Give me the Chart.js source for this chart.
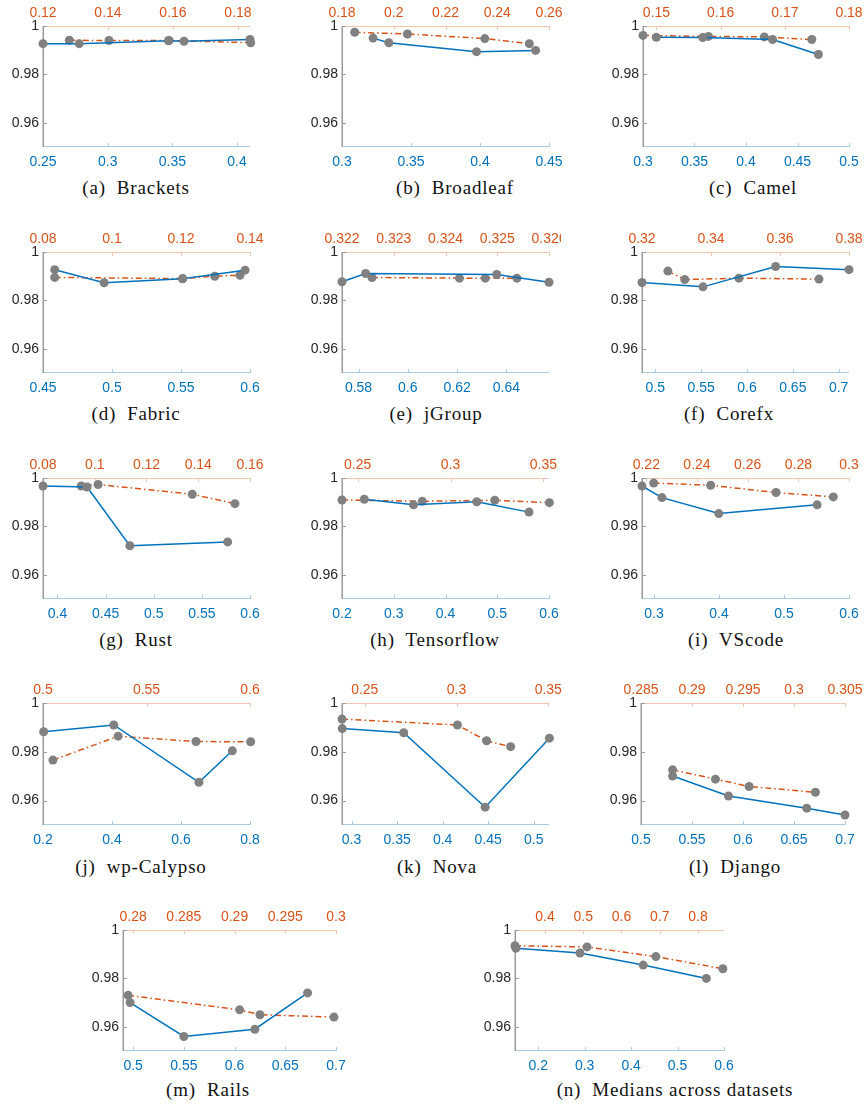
<!DOCTYPE html>
<html>
<head>
<meta charset="utf-8">
<script src="https://cdn.jsdelivr.net/npm/chart.js@4.4.1/dist/chart.umd.min.js"></script>
<style>
  html, body { margin: 0; padding: 0; background: #fff; }
  #fig { position: relative; width: 866px; height: 1106px; overflow: hidden; background: #fff; }
  #fig canvas { position: absolute; }
  .cap {
    position: absolute;
    font-family: "Liberation Serif", "Times New Roman", serif;
    font-size: 19px;
    letter-spacing: 0.8px;
    white-space: pre;
    color: #111;
    transform: translate(-50%, -50%);
  }
</style>
</head>
<body>
<div id="fig"></div>
<script>
// ---- data: [x, y] pairs; blue series uses the bottom axis, orange series the top axis ----
const bracketsBlue   = [[0.25, 0.9927], [0.278, 0.9927], [0.347, 0.9939], [0.359, 0.9937], [0.41, 0.9944]];
const bracketsOrange = [[0.1281, 0.9941], [0.1403, 0.9940], [0.1588, 0.9940], [0.1839, 0.9931]];
const bracketsBottomTicks = [0.25, 0.3, 0.35, 0.4];
const bracketsTopTicks    = [0.12, 0.14, 0.16, 0.18];

const broadleafBlue   = [[0.3225, 0.9950], [0.3339, 0.9931], [0.3975, 0.9894], [0.4403, 0.9899]];
const broadleafOrange = [[0.1849, 0.9974], [0.2053, 0.9967], [0.2352, 0.9948], [0.2524, 0.9927]];
const broadleafBottomTicks = [0.3, 0.35, 0.4, 0.45];
const broadleafTopTicks    = [0.18, 0.2, 0.22, 0.24, 0.26];

const camelBlue   = [[0.3129, 0.9953], [0.358, 0.9952], [0.4258, 0.9944], [0.4703, 0.9882]];
const camelOrange = [[0.1479, 0.9961], [0.1581, 0.9957], [0.1668, 0.9955], [0.1742, 0.9944]];
const camelBottomTicks = [0.3, 0.35, 0.4, 0.45, 0.5];
const camelTopTicks    = [0.15, 0.16, 0.17, 0.18];

const fabricBlue   = [[0.4585, 0.9927], [0.4943, 0.9873], [0.5511, 0.9889], [0.5964, 0.9925]];
const fabricOrange = [[0.0834, 0.9895], [0.1205, 0.9890], [0.1298, 0.9900], [0.1371, 0.9904]];
const fabricBottomTicks = [0.45, 0.5, 0.55, 0.6];
const fabricTopTicks    = [0.08, 0.1, 0.12, 0.14];

const jgroupBlue   = [[0.5733, 0.9877], [0.5829, 0.9911], [0.6361, 0.9907], [0.6573, 0.9875]];
const jgroupOrange = [[0.32258, 0.98945], [0.32427, 0.9892], [0.32477, 0.9892], [0.32538, 0.9892]];
const jgroupBottomTicks = [0.58, 0.6, 0.62, 0.64];
const jgroupTopTicks    = [0.322, 0.323, 0.324, 0.325, 0.326];

const corefxBlue   = [[0.4855, 0.9874], [0.552, 0.9856], [0.6313, 0.9940], [0.7113, 0.9927]];
const corefxOrange = [[0.3275, 0.9921], [0.3324, 0.9886], [0.3481, 0.9892], [0.3713, 0.9888]];
const corefxBottomTicks = [0.5, 0.55, 0.6, 0.65, 0.7];
const corefxTopTicks    = [0.32, 0.34, 0.36, 0.38];

const rustBlue   = [[0.385, 0.9967], [0.4308, 0.9963], [0.4752, 0.9720], [0.5768, 0.9736]];
const rustOrange = [[0.0948, 0.9967], [0.1013, 0.9973], [0.1377, 0.9933], [0.1542, 0.9894]];
const rustBottomTicks = [0.4, 0.45, 0.5, 0.55, 0.6];
const rustTopTicks    = [0.08, 0.1, 0.12, 0.14, 0.16];

const tensorflowBlue   = [[0.2431, 0.9912], [0.3383, 0.9889], [0.4605, 0.9902], [0.5614, 0.9859]];
const tensorflowOrange = [[0.2416, 0.9909], [0.2848, 0.9904], [0.3238, 0.9908], [0.3532, 0.9898]];
const tensorflowBottomTicks = [0.2, 0.3, 0.4, 0.5, 0.6];
const tensorflowTopTicks    = [0.25, 0.3, 0.35];

const vscodeBlue   = [[0.2816, 0.9967], [0.3123, 0.9919], [0.3997, 0.9853], [0.551, 0.9889]];
const vscodeOrange = [[0.2229, 0.9979], [0.2454, 0.9970], [0.2712, 0.9940], [0.2938, 0.9922]];
const vscodeBottomTicks = [0.3, 0.4, 0.5, 0.6];
const vscodeTopTicks    = [0.22, 0.24, 0.26, 0.28, 0.3];

const calypsoBlue   = [[0.2019, 0.9882], [0.4052, 0.9910], [0.652, 0.9675], [0.7487, 0.9804]];
const calypsoOrange = [[0.5048, 0.9766], [0.5363, 0.9864], [0.5739, 0.9842], [0.6003, 0.9841]];
const calypsoBottomTicks = [0.2, 0.4, 0.6, 0.8];
const calypsoTopTicks    = [0.5, 0.55, 0.6];

const novaBlue   = [[0.2898, 0.9895], [0.3573, 0.9878], [0.4467, 0.9573], [0.5172, 0.9856]];
const novaOrange = [[0.2376, 0.9934], [0.3005, 0.9910], [0.3164, 0.9845], [0.3295, 0.9821]];
const novaBottomTicks = [0.3, 0.35, 0.4, 0.45, 0.5];
const novaTopTicks    = [0.25, 0.3, 0.35];

const djangoBlue   = [[0.531, 0.9701], [0.5858, 0.9619], [0.6625, 0.9569], [0.70, 0.9541]];
const djangoOrange = [[0.2881, 0.9726], [0.2923, 0.9688], [0.2956, 0.9658], [0.3021, 0.9634]];
const djangoBottomTicks = [0.5, 0.55, 0.6, 0.65, 0.7];
const djangoTopTicks    = [0.285, 0.29, 0.295, 0.3, 0.305];

const railsBlue   = [[0.497, 0.9700], [0.55, 0.9560], [0.62, 0.9590], [0.672, 0.9740]];
const railsOrange = [[0.2795, 0.9730], [0.2905, 0.9670], [0.2925, 0.9650], [0.2998, 0.9640]];
const railsBottomTicks = [0.5, 0.55, 0.6, 0.65, 0.7];
const railsTopTicks    = [0.28, 0.285, 0.29, 0.295, 0.3];

const mediansBlue   = [[0.152, 0.9925], [0.29, 0.9905], [0.426, 0.9855], [0.562, 0.9800]];
const mediansOrange = [[0.3216, 0.9935], [0.51, 0.9930], [0.69, 0.9890], [0.865, 0.9840]];
const mediansBottomTicks = [0.2, 0.3, 0.4, 0.5, 0.6];
const mediansTopTicks    = [0.4, 0.5, 0.6, 0.7, 0.8];

const yTicks = [0.96, 0.98, 1];
const yRange = [0.95, 1];

// ---- panel definitions (data + axis limits) ----
const PANELS = [
  { key: 'a', caption: '(a)  Brackets',   blue: bracketsBlue,   orange: bracketsOrange,   bt: bracketsBottomTicks,   tt: bracketsTopTicks,   bx: [0.25, 0.41],     tx: [0.12, 0.1837] },
  { key: 'b', caption: '(b)  Broadleaf',  blue: broadleafBlue,  orange: broadleafOrange,  bt: broadleafBottomTicks,  tt: broadleafTopTicks,  bx: [0.3, 0.45],      tx: [0.18, 0.26] },
  { key: 'c', caption: '(c)  Camel',      blue: camelBlue,      orange: camelOrange,      bt: camelBottomTicks,      tt: camelTopTicks,      bx: [0.3, 0.5],       tx: [0.1479, 0.18] },
  { key: 'd', caption: '(d)  Fabric',     blue: fabricBlue,     orange: fabricOrange,     bt: fabricBottomTicks,     tt: fabricTopTicks,     bx: [0.45, 0.6],      tx: [0.08, 0.14] },
  { key: 'e', caption: '(e)  jGroup',     blue: jgroupBlue,     orange: jgroupOrange,     bt: jgroupBottomTicks,     tt: jgroupTopTicks,     bx: [0.5733, 0.6573], tx: [0.322, 0.326] },
  { key: 'f', caption: '(f)  Corefx',     blue: corefxBlue,     orange: corefxOrange,     bt: corefxBottomTicks,     tt: corefxTopTicks,     bx: [0.4855, 0.7113], tx: [0.32, 0.38] },
  { key: 'g', caption: '(g)  Rust',       blue: rustBlue,       orange: rustOrange,       bt: rustBottomTicks,       tt: rustTopTicks,       bx: [0.385, 0.6],     tx: [0.08, 0.16] },
  { key: 'h', caption: '(h)  Tensorflow', blue: tensorflowBlue, orange: tensorflowOrange, bt: tensorflowBottomTicks, tt: tensorflowTopTicks, bx: [0.2, 0.6],       tx: [0.2416, 0.353] },
  { key: 'i', caption: '(i)  VScode',     blue: vscodeBlue,     orange: vscodeOrange,     bt: vscodeBottomTicks,     tt: vscodeTopTicks,     bx: [0.2816, 0.6],    tx: [0.2183, 0.3] },
  { key: 'j', caption: '(j)  wp-Calypso', blue: calypsoBlue,    orange: calypsoOrange,    bt: calypsoBottomTicks,    tt: calypsoTopTicks,    bx: [0.2, 0.8],       tx: [0.5, 0.6] },
  { key: 'k', caption: '(k)  Nova',       blue: novaBlue,       orange: novaOrange,       bt: novaBottomTicks,       tt: novaTopTicks,       bx: [0.2895, 0.5168], tx: [0.2376, 0.3504] },
  { key: 'l', caption: '(l)  Django',     blue: djangoBlue,     orange: djangoOrange,     bt: djangoBottomTicks,     tt: djangoTopTicks,     bx: [0.5, 0.7],       tx: [0.285, 0.305] },
  { key: 'm', caption: '(m)  Rails',      blue: railsBlue,      orange: railsOrange,      bt: railsBottomTicks,      tt: railsTopTicks,      bx: [0.49, 0.7],      tx: [0.279, 0.3] },
  { key: 'n', caption: '(n)  Medians across datasets', blue: mediansBlue, orange: mediansOrange, bt: mediansBottomTicks, tt: mediansTopTicks, bx: [0.15, 0.6], tx: [0.3216, 0.868] }
];

// ---- page layout: plot boxes [left, top, right, bottom] and caption centres ----
const FRAMES = {
  a: { box: [43, 26, 250, 147],   cap: [136, 188] },
  b: { box: [342, 26, 549, 147],  cap: [455, 188] },
  c: { box: [643, 26, 849, 147],  cap: [753, 188] },
  d: { box: [43, 252, 250, 373],  cap: [136, 414] },
  e: { box: [342, 252, 549, 373], cap: [436, 414], padRight: 12 },
  f: { box: [642, 252, 849, 373], cap: [729, 414] },
  g: { box: [43, 478, 250, 599],  cap: [136, 640] },
  h: { box: [342, 478, 549, 599], cap: [435, 640] },
  i: { box: [642, 478, 849, 599], cap: [736, 640] },
  j: { box: [43, 703, 250, 825],  cap: [141, 867] },
  k: { box: [342, 703, 549, 825], cap: [437, 867] },
  l: { box: [641, 703, 845, 825], cap: [735, 867] },
  m: { box: [123, 930, 336, 1051], cap: [208, 1090] },
  n: { box: [515, 930, 724, 1051], cap: [675, 1090] }
};

const BLUE = '#0072BD';
const ORANGE = '#D95319';
const MARKER = '#808080';
const BOTTOM_AXIS = '#a9cbe6';
const TOP_AXIS = '#f1c6b0';
const LEFT_AXIS = '#9a9a9a';
const PAD_L = 48, PAD_T = 24, PAD_B = 24;

// axis lines plus short inward tick marks, MATLAB style
const axisDecor = {
  id: 'axisDecor',
  beforeDatasetsDraw(chart) {
    const { ctx, chartArea: a, scales } = chart;
    ctx.save();
    ctx.lineWidth = 1;
    const seg = (color, x1, y1, x2, y2) => {
      ctx.strokeStyle = color;
      ctx.beginPath(); ctx.moveTo(x1, y1); ctx.lineTo(x2, y2); ctx.stroke();
    };
    seg(TOP_AXIS, a.left, a.top + 0.5, a.right, a.top + 0.5);
    seg(BOTTOM_AXIS, a.left, a.bottom - 0.5, a.right, a.bottom - 0.5);
    scales.x.ticks.forEach(t => {
      const p = Math.round(scales.x.getPixelForValue(t.value)) + 0.5;
      seg(BOTTOM_AXIS, p, a.bottom, p, a.bottom - 4);
    });
    scales.x2.ticks.forEach(t => {
      const p = Math.round(scales.x2.getPixelForValue(t.value)) + 0.5;
      seg(TOP_AXIS, p, a.top, p, a.top + 4);
    });
    scales.y.ticks.forEach(t => {
      const p = Math.round(scales.y.getPixelForValue(t.value)) + 0.5;
      seg(LEFT_AXIS, a.left, p, a.left + 4, p);
    });
    ctx.lineWidth = 1.5;
    seg(LEFT_AXIS, a.left + 0.25, a.top, a.left + 0.25, a.bottom);
    ctx.restore();
  }
};

const fmt = v => String(v);
const tickFont = { family: '"Liberation Sans", Arial, sans-serif', size: 14 };

const fig = document.getElementById('fig');

PANELS.forEach(p => {
  const fr = FRAMES[p.key];
  const [l, t, r, b] = fr.box;
  const padR = fr.padRight || 24;
  const W = (r - l) + PAD_L + padR;
  const H = (b - t) + PAD_T + PAD_B;

  const cv = document.createElement('canvas');
  cv.width = W; cv.height = H;
  cv.style.left = (l - PAD_L) + 'px';
  cv.style.top = (t - PAD_T) + 'px';
  cv.style.width = W + 'px';
  cv.style.height = H + 'px';
  fig.appendChild(cv);

  const cap = document.createElement('div');
  cap.className = 'cap';
  cap.textContent = p.caption;
  cap.style.left = fr.cap[0] + 'px';
  cap.style.top = fr.cap[1] + 'px';
  fig.appendChild(cap);

  const fixTicks = list => scale => { scale.ticks = list.map(v => ({ value: v })); };

  new Chart(cv, {
    type: 'scatter',
    data: {
      datasets: [
        {
          data: p.blue.map(([x, y]) => ({ x, y })),
          xAxisID: 'x', yAxisID: 'y',
          showLine: true,
          borderColor: BLUE, borderWidth: 1.5,
          pointRadius: 4.5, pointBackgroundColor: MARKER, pointBorderWidth: 0,
          clip: false
        },
        {
          data: p.orange.map(([x, y]) => ({ x, y })),
          xAxisID: 'x2', yAxisID: 'y',
          showLine: true,
          borderColor: ORANGE, borderWidth: 1.5,
          borderDash: [6, 3, 1.5, 3],
          pointRadius: 4.5, pointBackgroundColor: MARKER, pointBorderWidth: 0,
          clip: false
        }
      ]
    },
    options: {
      responsive: false,
      maintainAspectRatio: false,
      animation: false,
      devicePixelRatio: 1,
      layout: { padding: { left: 0, top: 0, right: padR, bottom: 0 } },
      plugins: { legend: { display: false }, tooltip: { enabled: false } },
      scales: {
        x: {
          type: 'linear', position: 'bottom',
          min: p.bx[0], max: p.bx[1],
          grid: { display: false, drawTicks: false },
          border: { display: false },
          afterBuildTicks: fixTicks(p.bt),
          afterFit: s => { s.height = PAD_B; s.paddingLeft = 0; s.paddingRight = 0; },
          ticks: { color: BLUE, font: tickFont, padding: 7, maxRotation: 0, autoSkip: false, callback: fmt }
        },
        x2: {
          type: 'linear', position: 'top',
          min: p.tx[0], max: p.tx[1],
          grid: { display: false, drawTicks: false },
          border: { display: false },
          afterBuildTicks: fixTicks(p.tt),
          afterFit: s => { s.height = PAD_T; s.paddingLeft = 0; s.paddingRight = 0; },
          ticks: { color: ORANGE, font: tickFont, padding: 4, maxRotation: 0, autoSkip: false, callback: fmt }
        },
        y: {
          type: 'linear', position: 'left',
          min: yRange[0], max: yRange[1],
          grid: { display: false, drawTicks: false },
          border: { display: false },
          afterBuildTicks: fixTicks(yTicks),
          afterFit: s => { s.width = PAD_L; s.paddingTop = 0; s.paddingBottom = 0; },
          ticks: { color: '#262626', font: tickFont, padding: 4, autoSkip: false, callback: fmt }
        }
      }
    },
    plugins: [axisDecor]
  });
});
</script>
</body>
</html>
